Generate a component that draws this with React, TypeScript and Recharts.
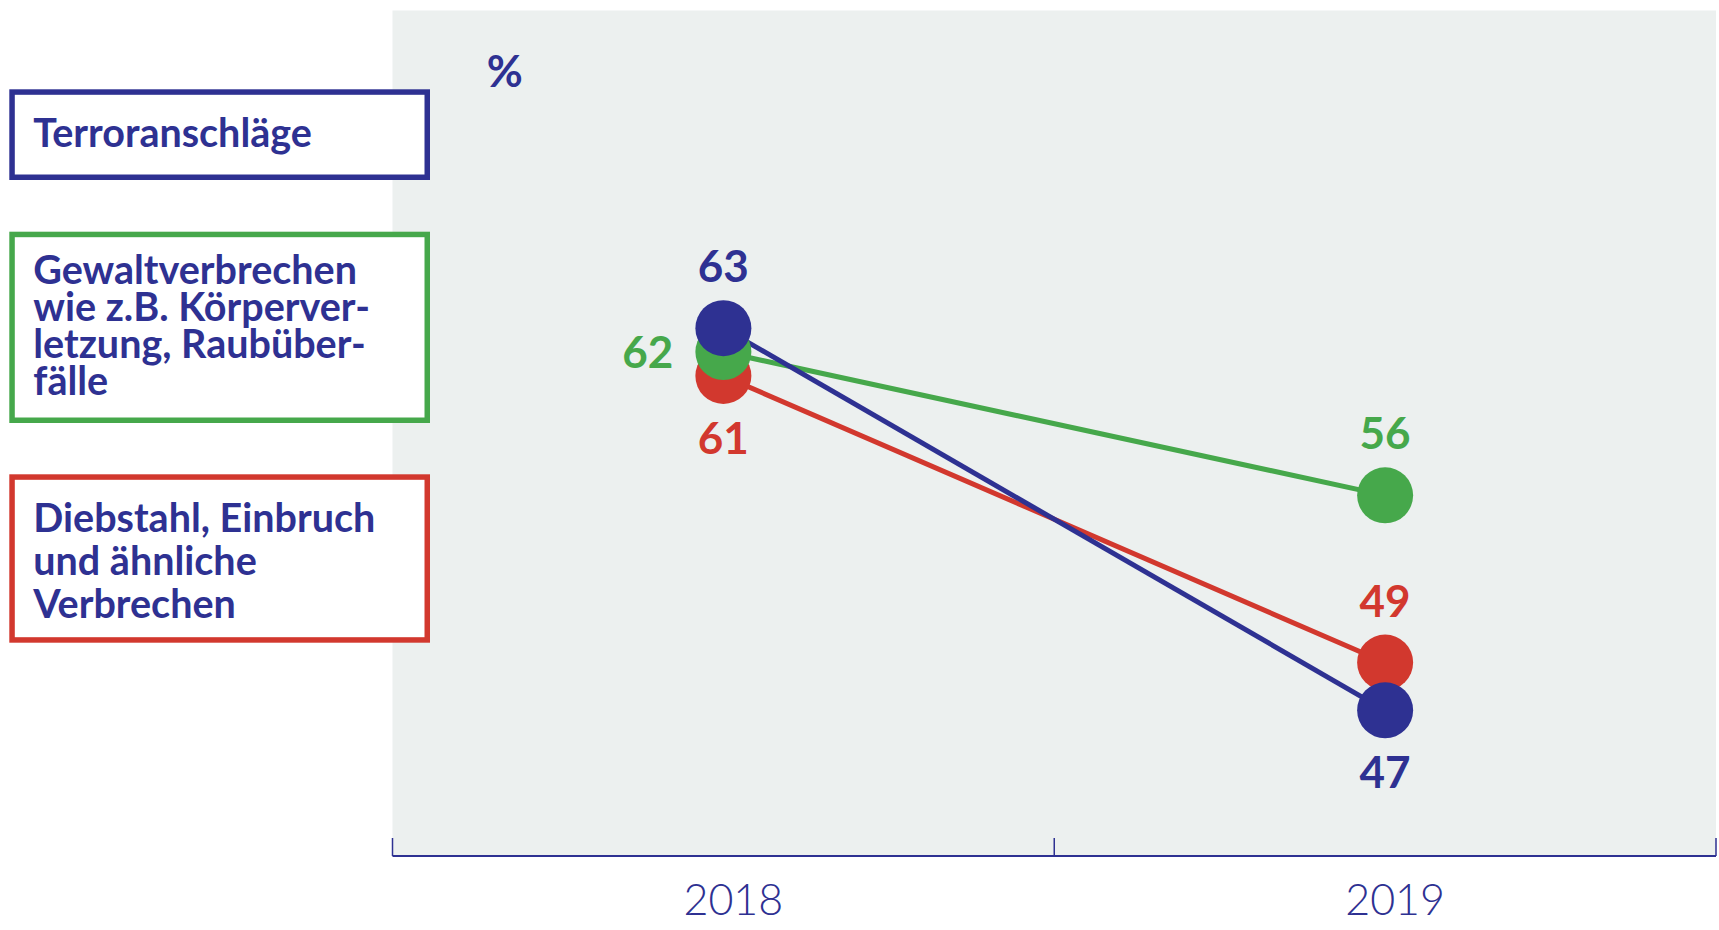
import React from "react";
import {
  ComposedChart,
  Line,
  XAxis,
  YAxis,
  CartesianGrid,
  LabelList,
} from "recharts";

// Umfrage: Angst vor Kriminalität, Anteil in %
const years = ["2018", "2019"];
const terror = [63, 47];
const gewalt = [62, 56];
const diebstahl = [61, 49];

const legendLines = [
  ["Terroranschläge"],
  ["Gewaltverbrechen", "wie z.B. Körperver-", "letzung, Raubüber-", "fälle"],
  ["Diebstahl, Einbruch", "und ähnliche", "Verbrechen"],
];

const NAVY = "#2e3192";
const GREEN = "#46a84b";
const RED = "#d2382e";
const FRAME = "#7fa9e2";
const PLOT_BG = "#ecf0ef";
const FONT = "Lato, 'Open Sans', sans-serif";

const data = years.map((year, i) => ({
  year,
  terror: terror[i],
  gewalt: gewalt[i],
  diebstahl: diebstahl[i],
}));

// where each value label sits relative to its dot
const terrorSides = ["top", "bottom"];
const gewaltSides = ["left", "top"];
const diebstahlSides = ["bottom", "top"];

function makeLabel(color: string, sides: string[]) {
  return (props: any) => {
    const x = props.x ?? props.viewBox?.x;
    const y = props.y ?? props.viewBox?.y;
    const side = sides[props.index];
    let tx = x;
    let ty = y;
    let anchor: "middle" | "end" = "middle";
    if (side === "top") ty = y - 46;
    else if (side === "bottom") ty = y + 78;
    else {
      tx = x - 50;
      ty = y + 16;
      anchor = "end";
    }
    return (
      <text
        key={`${color}-${props.index}`}
        x={tx}
        y={ty}
        textAnchor={anchor}
        fill={color}
        fontSize={44}
        fontWeight={700}
        fontFamily={FONT}
      >
        {props.value}
      </text>
    );
  };
}

function YearTick(props: any) {
  const { x, y, payload, index } = props;
  const half = payload.offset ?? 0;
  const last = index === years.length - 1;
  return (
    <g>
      <line x1={x - half} x2={x - half} y1={y} y2={y - 18} stroke={NAVY} strokeWidth={1.5} />
      {last && (
        <line x1={x + half} x2={x + half} y1={y} y2={y - 18} stroke={NAVY} strokeWidth={1.5} />
      )}
      <text
        x={x + 10}
        y={y + 59}
        textAnchor="middle"
        fill={NAVY}
        fontSize={43}
        fontWeight={300}
        fontFamily={FONT}
      >
        {payload.value}
      </text>
    </g>
  );
}

const boxes = [
  { color: NAVY, top: 89.3, height: 90.7, baseline: 146.7, lead: 0 },
  { color: GREEN, top: 231.7, height: 191.3, baseline: 284, lead: 37 },
  { color: RED, top: 474.3, height: 168.4, baseline: 531.7, lead: 43 },
];

export default function App() {
  return (
    <div
      style={{
        position: "absolute",
        left: 0,
        top: 0,
        width: 1719,
        height: 930,
        background: "#fff",
      }}
    >
      <ComposedChart
        width={1719}
        height={930}
        data={data}
        margin={{ top: 10.5, right: 3, bottom: 0, left: 392.5 }}
      >
        <CartesianGrid fill={PLOT_BG} horizontal={false} vertical={false} />
        <XAxis
          dataKey="year"
          scale="band"
          height={74}
          tickSize={0}
          tickMargin={0}
          tickLine={false}
          axisLine={{ stroke: NAVY, strokeWidth: 2 }}
          tick={<YearTick />}
        />
        <XAxis
          xAxisId="top"
          dataKey="year"
          scale="band"
          orientation="top"
          height={0}
          tick={false}
          tickLine={false}
          axisLine={{ stroke: FRAME, strokeWidth: 1.2 }}
        />
        <YAxis
          domain={[40.9, 76.3]}
          width={0}
          tick={false}
          tickLine={false}
          axisLine={{ stroke: FRAME, strokeWidth: 1.2 }}
        />
        <YAxis
          yAxisId="right"
          orientation="right"
          domain={[40.9, 76.3]}
          width={0}
          tick={false}
          tickLine={false}
          axisLine={{ stroke: FRAME, strokeWidth: 1.2 }}
        />
        <Line
          dataKey="diebstahl"
          stroke={RED}
          strokeWidth={5}
          dot={{ r: 28, fill: RED, stroke: RED, strokeWidth: 0 }}
          activeDot={false}
          isAnimationActive={false}
        >
          <LabelList dataKey="diebstahl" content={makeLabel(RED, diebstahlSides)} />
        </Line>
        <Line
          dataKey="gewalt"
          stroke={GREEN}
          strokeWidth={5}
          dot={{ r: 28, fill: GREEN, stroke: GREEN, strokeWidth: 0 }}
          activeDot={false}
          isAnimationActive={false}
        >
          <LabelList dataKey="gewalt" content={makeLabel(GREEN, gewaltSides)} />
        </Line>
        <Line
          dataKey="terror"
          stroke={NAVY}
          strokeWidth={5}
          dot={{ r: 28, fill: NAVY, stroke: NAVY, strokeWidth: 0 }}
          activeDot={false}
          isAnimationActive={false}
        >
          <LabelList dataKey="terror" content={makeLabel(NAVY, terrorSides)} />
        </Line>
      </ComposedChart>

      <svg
        width={1719}
        height={930}
        style={{ position: "absolute", left: 0, top: 0, pointerEvents: "none" }}
      >
        <text x={486.7} y={87.3} fill={NAVY} fontSize={44} fontWeight={700} fontFamily={FONT}>
          %
        </text>
        {boxes.map((b, i) => (
          <g key={i}>
            <rect
              x={12.05}
              y={b.top + 2.75}
              width={415.2}
              height={b.height - 5.5}
              fill="#fff"
              stroke={b.color}
              strokeWidth={5.5}
            />
            {legendLines[i].map((line, j) => (
              <text
                key={j}
                x={33.3}
                y={b.baseline + j * b.lead}
                fill={NAVY}
                fontSize={39.5}
                fontWeight={700}
                fontFamily={FONT}
              >
                {line}
              </text>
            ))}
          </g>
        ))}
      </svg>
    </div>
  );
}
